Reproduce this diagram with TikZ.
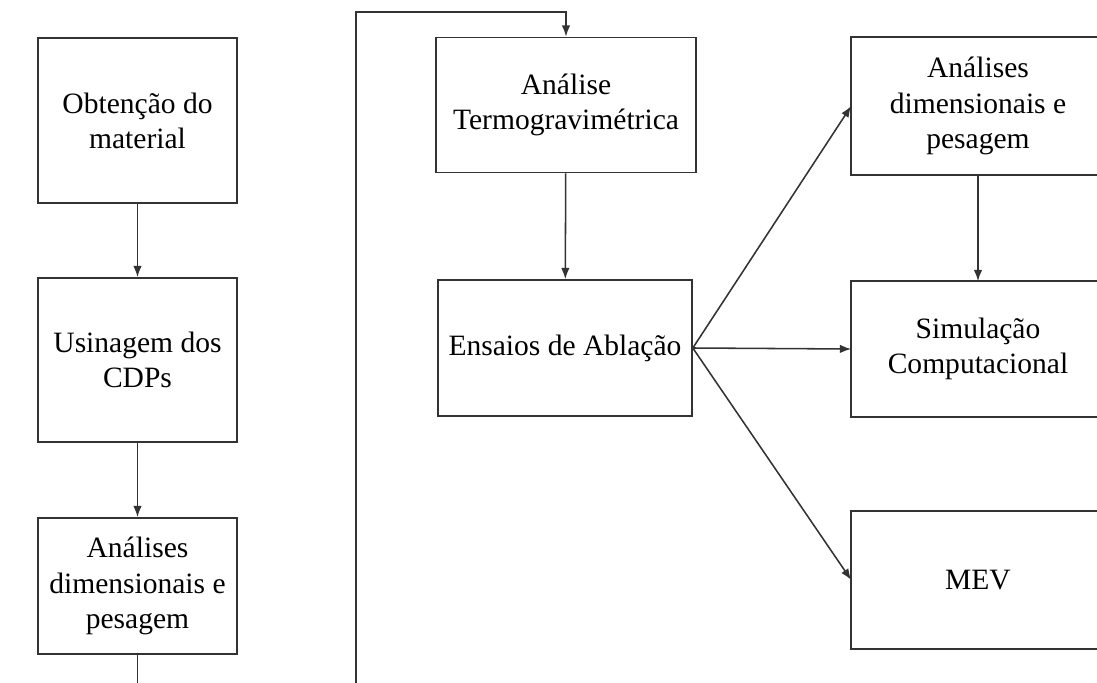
\documentclass[tikz,border=0pt]{standalone}
\usepackage{fontspec}
\setmainfont{Liberation Serif}
\usetikzlibrary{arrows.meta,positioning,calc}

\begin{document}
\begin{tikzpicture}[x=0.025cm,y=-0.025cm,
    box/.style={draw=black!80,line width=1.1pt,align=center,inner sep=2pt,
      font=\fontsize{21}{25}\selectfont},
    lbox/.style={box,minimum width=4.975cm},
    mbox/.style={box,minimum width=6.5cm},
    rbox/.style={box,draw=none,minimum width=6.3cm},
    ln/.style={draw=black!80,line width=1.1pt},
    arr/.style={ln,-{Latex[length=8pt,width=6pt]}}]
    \useasboundingbox (0,0) rectangle (1097,683);
    \clip (0,0) rectangle (1097,683);

    % left column
    \node[lbox,minimum height=4.125cm] (ob) at (137.5,120.5) {Obtenção do\\material};
    \node[lbox,minimum height=4.1cm] (us) at (137.5,360) {Usinagem dos\\CDPs};
    \node[lbox,minimum height=3.4cm] (al) at (137.5,586) {Análises\\dimensionais e\\pesagem};

    % middle column
    \node[mbox,minimum height=3.375cm] (ter) at (566,105) {Análise\\Termogravimétrica};
    \node[box,minimum width=6.35cm,minimum height=3.4cm] (ens) at (565,348) {Ensaios de Ablação};

    % right column (cut off by the page edge)
    \node[rbox,minimum height=3.4cm] (r1) at (978,106) {Análises\\dimensionais e\\pesagem};
    \node[rbox,minimum height=3.35cm] (sim) at (978,349) {Simulação\\Computacional};
    \node[rbox,minimum height=3.4cm] (mev) at (978,580) {MEV};
    \foreach \n in {r1,sim,mev}
      \draw[ln] (\n.north west) rectangle ($(\n.south east)+(40,0)$);

    \coordinate (lb) at (137.5,683);
    \coordinate (rb) at (356,683);
    \coordinate (top) at (356,12);

    \draw[arr] (ob) -- (us);
    \draw[arr] (us) -- (al);
    \draw[ln] (al) -- (lb);
    \draw[arr] (rb) -- (top) -| (ter.north);
    \draw[arr] (ter) -- (ens);

    \draw[arr] (ens.east) -- (r1.west);
    \draw[arr] (ens.east) -- (sim.west);
    \draw[arr] (ens.east) -- (mev.west);
    \draw[arr] (r1) -- (sim);

  \end{tikzpicture}
\end{document}
